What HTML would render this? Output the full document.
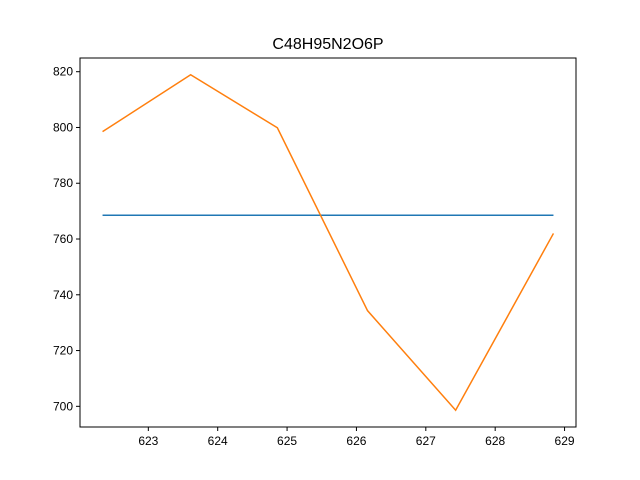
<!DOCTYPE html>
<html><head><meta charset="utf-8"><style>body{margin:0;background:#fff}svg{display:block}</style></head>
<body>
<svg id="chart" width="640" height="480" xmlns="http://www.w3.org/2000/svg" font-family="Liberation Sans, DejaVu Sans, sans-serif">
<rect width="640" height="480" fill="#fff"/>
<text x="328" y="49" font-size="16" text-anchor="middle">C48H95N2O6P</text>
<g id="plot"></g>
<rect x="80" y="58" width="496" height="369" fill="none" stroke="#000" stroke-width="1"/>
</svg>
<script>
const xValues = [622.34, 623.61, 624.86, 626.16, 627.43, 628.84];
const orangeValues = [798.5, 818.9, 799.9, 734.3, 698.6, 762.0];
const blueValues = [768.5, 768.5, 768.5, 768.5, 768.5, 768.5];
const xTicks = [623, 624, 625, 626, 627, 628, 629];
const yTicks = [700, 720, 740, 760, 780, 800, 820];

const L=80,R=576,T=58,B=427;
const xmin=Math.min(...xValues), xmax=Math.max(...xValues);
const allY=orangeValues.concat(blueValues);
const ymin=Math.min(...allY), ymax=Math.max(...allY);
const xp=(xmax-xmin)*0.05, yp=(ymax-ymin)*0.05;
const xs=v=>L+(v-(xmin-xp))/((xmax+xp)-(xmin-xp))*(R-L);
const ys=v=>B-(v-(ymin-yp))/((ymax+yp)-(ymin-yp))*(B-T);
const NS="http://www.w3.org/2000/svg";
const g=document.getElementById('plot');
function mk(t,a){const e=document.createElementNS(NS,t);for(const k in a)e.setAttribute(k,a[k]);g.appendChild(e);return e;}
xTicks.forEach(v=>{
  const x=xs(v);
  const l=mk('line',{x1:x,x2:x,y1:B,y2:B+4,stroke:'#000'});
  
  
  const t=mk('text',{x:x,y:B+18,'font-size':12,'text-anchor':'middle'});
  t.textContent=v;
  
  
});
yTicks.forEach(v=>{
  const y=ys(v);
  const l=mk('line',{x1:L-4,x2:L,y1:y,y2:y,stroke:'#000'});
  
  
  const t=mk('text',{x:L-7,y:y+4,'font-size':12,'text-anchor':'end'});
  t.textContent=v;
  
  
});
const pb=mk('polyline',{points:xValues.map((x,i)=>xs(x)+','+ys(blueValues[i])).join(' '),fill:'none',stroke:'#1f77b4','stroke-width':1.5});


const po=mk('polyline',{points:xValues.map((x,i)=>xs(x)+','+ys(orangeValues[i])).join(' '),fill:'none',stroke:'#ff7f0e','stroke-width':1.5});


</script>
</body></html>
